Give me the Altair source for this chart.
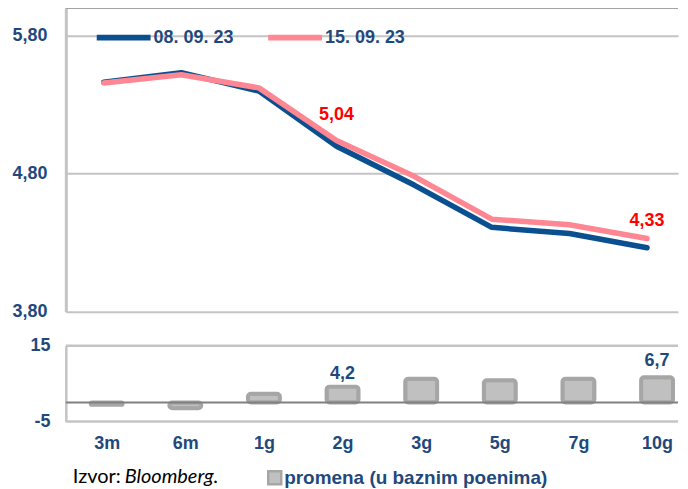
import altair as alt
import pandas as pd

# ---------------- data ----------------
tenors = ["3m", "6m", "1g", "2g", "3g", "5g", "7g", "10g"]
yield_0809 = [5.461, 5.530, 5.397, 4.998, 4.717, 4.411, 4.367, 4.263]
yield_1509 = [5.455, 5.515, 5.420, 5.040, 4.780, 4.470, 4.430, 4.330]
change_bp = [-0.6, -1.5, 2.3, 4.2, 6.3, 5.9, 6.3, 6.7]
series_names = ["08. 09. 23", "15. 09. 23"]
series_colors = ["#0A4F8F", "#FF8793"]
y_ticks = [3.8, 4.8, 5.8]
bar_ticks = [-5, 5, 15]
bar_legend = "promena (u baznim poenima)"
source_label = "Izvor:"
source_name = "Bloomberg."

NAVY = "#1F497D"
FONT = "Liberation Sans"
GRID = "#C4C4C4"
PLOT_W = 614

lines_df = pd.DataFrame({
    "tenor": tenors * 2,
    "serija": [series_names[0]] * len(tenors) + [series_names[1]] * len(tenors),
    "prinos": yield_0809 + yield_1509,
})
pink_df = pd.DataFrame({"tenor": tenors, "prinos": yield_1509})
bars_df = pd.DataFrame({"tenor": tenors, "promena": change_bp,
                        "legenda": [bar_legend] * len(tenors)})

lab_style = dict(labelFont=FONT, labelFontSize=18, labelFontWeight="bold",
                 labelColor=NAVY)

# ---------------- top: yields ----------------
x_top = alt.X("tenor:N", sort=tenors,
              scale=alt.Scale(type="point", padding=0.443, align=0.55), axis=None)
y_scale_top = alt.Scale(domain=[3.8, 6.0], nice=False, zero=False)
y_top = alt.Y("prinos:Q", scale=y_scale_top,
              axis=alt.Axis(values=y_ticks, title=None,
                            labelExpr="replace(format(datum.value, '.2f'), '.', ',')",
                            grid=True, gridColor=GRID, gridWidth=2,
                            domain=True, domainColor=GRID, domainWidth=3,
                            ticks=False, labelPadding=19, labelOverlap=False,
                            minExtent=58, maxExtent=58, **lab_style))

top_rule = alt.Chart(pd.DataFrame({"v": [6.0]})).mark_rule(
    color="#A3A3A3", strokeWidth=2.5).encode(y=alt.datum(6.0))

lines = alt.Chart(lines_df).mark_line(
    strokeWidth=5.5, strokeCap="round", strokeJoin="round").encode(
    x=x_top, y=y_top,
    color=alt.Color("serija:N",
                    scale=alt.Scale(domain=series_names, range=series_colors),
                    legend=alt.Legend(orient="none", legendX=28, legendY=0,
                                      direction="horizontal", title=None,
                                      symbolType="stroke", symbolSize=2916,
                                      symbolStrokeWidth=6, labelOffset=0,
                                      columnPadding=22, labelLimit=300,
                                      **lab_style)),
)

red_base = alt.Chart(pink_df).transform_calculate(
    lbl="replace(format(datum.prinos, '.2f'), '.', ',')")
red_2g = red_base.transform_filter(alt.datum.tenor == "2g").mark_text(
    font=FONT, fontSize=18, fontWeight="bold", color="#FF0000",
    baseline="middle", dy=-25).encode(x=x_top, y="prinos:Q", text="lbl:N")
red_10g = red_base.transform_filter(alt.datum.tenor == "10g").mark_text(
    font=FONT, fontSize=18, fontWeight="bold", color="#FF0000",
    baseline="middle", dy=-18).encode(x=x_top, y="prinos:Q", text="lbl:N")

top = alt.layer(top_rule, lines, red_2g, red_10g).properties(width=PLOT_W, height=305)

# ---------------- bottom: change ----------------
x_bot = alt.X("tenor:N", sort=tenors,
              scale=alt.Scale(type="point", padding=0.393, align=0.661),
              axis=alt.Axis(labelAngle=0, title=None, domain=False, ticks=False,
                            grid=False, labelPadding=13, **lab_style))
y_bot = alt.Y("promena:Q", scale=alt.Scale(domain=[-5, 15], nice=False),
              axis=alt.Axis(values=bar_ticks, title=None, grid=False,
                            labelExpr="'' + datum.value", labelOverlap=False,
                            domain=True, domainColor=GRID, domainWidth=2.5,
                            ticks=False, labelPadding=16,
                            minExtent=58, maxExtent=58, **lab_style))

frame_top = alt.Chart(pd.DataFrame({"v": [15]})).mark_rule(
    color=GRID, strokeWidth=2.5).encode(y=alt.datum(15))
frame_bot = alt.Chart(pd.DataFrame({"v": [-5]})).mark_rule(
    color=GRID, strokeWidth=2.5).encode(y=alt.datum(-5))

bars = alt.Chart(bars_df).mark_bar(
    size=32, stroke="#A6A6A6", strokeWidth=4, cornerRadius=3,
    fillOpacity=1).encode(
    x=x_bot, y=y_bot,
    fill=alt.Fill("legenda:N", scale=alt.Scale(range=["#C0C0C0"]),
                  legend=alt.Legend(orient="none", legendX=200, legendY=462,
                                    title=None, symbolType="square",
                                    symbolSize=169, symbolStrokeColor="#A6A6A6",
                                    symbolFillColor="#C0C0C0",
                                    symbolStrokeWidth=2.5, labelOffset=0,
                                    labelLimit=400, labelFont=FONT,
                                    labelFontSize=19, labelFontWeight="bold",
                                    labelColor=NAVY)),
)

zero = alt.Chart(pd.DataFrame({"v": [0]})).mark_rule(
    color="#808080", strokeWidth=2).encode(y=alt.datum(0))

bl_base = alt.Chart(bars_df).transform_calculate(
    lbl="replace(format(datum.promena, '.1f'), '.', ',')")
bl_2g = bl_base.transform_filter(alt.datum.tenor == "2g").mark_text(
    font=FONT, fontSize=18, fontWeight="bold", color=NAVY,
    baseline="middle", dy=-13).encode(x=x_bot, y="promena:Q", text="lbl:N")
bl_10g = bl_base.transform_filter(alt.datum.tenor == "10g").mark_text(
    font=FONT, fontSize=18, fontWeight="bold", color=NAVY,
    baseline="middle", dy=-16).encode(x=x_bot, y="promena:Q", text="lbl:N")

src1 = alt.Chart(pd.DataFrame({"t": [source_label]})).mark_text(
    font="Lato", fontSize=20, color="#000000", align="left",
    baseline="middle").encode(x=alt.value(7), y=alt.value(132), text="t:N")
src2 = alt.Chart(pd.DataFrame({"t": [source_name]})).mark_text(
    font="Lato", fontSize=20, fontStyle="italic", color="#000000",
    align="left", baseline="middle").encode(x=alt.value(59), y=alt.value(132),
                                             text="t:N")

bottom = alt.layer(bars, frame_top, frame_bot, zero, bl_2g, bl_10g,
                   src1, src2).properties(width=PLOT_W, height=76)

chart = alt.vconcat(top, bottom, spacing=16).properties(
    padding={"left": 0, "top": -3, "right": 0, "bottom": 0}
).configure_view(stroke=None)

chart.save("out.html", embed_options={"renderer": "svg", "actions": False})
